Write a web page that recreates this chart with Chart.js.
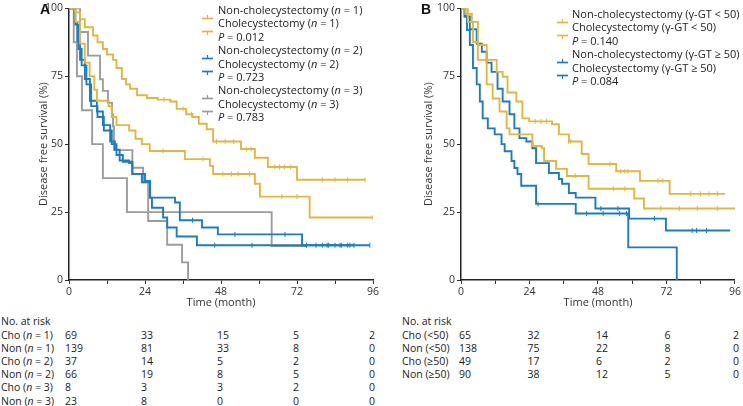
<!DOCTYPE html>
<html>
<head>
<meta charset="utf-8">
<script src="https://cdn.jsdelivr.net/npm/chart.js@4.4.1/dist/chart.umd.min.js"></script>
<style>
  body { margin: 0; background: #fff; }
  #page { position: relative; width: 743px; height: 406px; overflow: hidden; font-family: "Open Sans", sans-serif; color: #222; }
  #page canvas { position: absolute; top: 0; }
  .txt { position: absolute; font-size: 10.5px; line-height: 12px; white-space: nowrap; }
  .lg { font-size: 11px; }
  .letter { position: absolute; font: bold 14px "Liberation Sans", Arial, sans-serif; color: #111; }
</style>
</head>
<body>
<div id="page">
  <canvas id="chartA" width="385" height="312" style="left:0"></canvas>
  <canvas id="chartB" width="353" height="312" style="left:390px"></canvas>
  <div class="letter" style="left:40px;top:1px">A</div>
  <div class="letter" style="left:421px;top:1px">B</div>
</div>
<script>
const YEL = '#E2B63F', BLU = '#1B7CC2', GRY = '#9C9C9C';
const FONT = '"Open Sans", sans-serif';

// Panel A: survival steps (time in months, survival in %) and censor times
const aNon1T = [0, 2, 3.5, 5, 7.6, 9, 10.7, 12, 13.9, 15, 16.7, 18, 19.3, 21.5, 24.6, 28, 32, 34, 37, 39, 41, 43.5, 45.5, 54.3, 58.7, 62.8, 72, 93.5];
const aNon1S = [100, 98.5, 96, 93, 90, 87.5, 85, 83, 81, 78, 74, 72, 70.4, 68, 67, 66.4, 65.7, 63, 61, 60, 57.5, 55.5, 51, 48.2, 45, 41.6, 36.9, 36.9];
const aNon1C = [30, 36, 38.7, 46.6, 49.3, 52, 56, 57.5, 65, 66.5, 68, 70, 80, 84, 88, 93.5];

const aCho1T = [0, 2, 3.5, 5, 6.5, 8, 8.8, 12.5, 13.5, 15, 19, 21, 23, 25.5, 36.6, 44.5, 45.5, 58.7, 60.3, 76, 96];
const aCho1S = [100, 95, 87, 80, 75, 70, 66, 64, 60, 57, 55, 52, 50, 47.5, 44.5, 42, 39, 35.4, 30.7, 23, 23];
const aCho1C = [29.7, 42.3, 48.6, 51.3, 53.4, 57, 67.2, 72, 96];

const aNon2T = [0, 1.8, 2.6, 3.5, 5, 6.6, 8.8, 10.7, 13, 14.5, 16, 19, 20, 24, 25.6, 33.5, 35, 42, 47, 73.6, 95];
const aNon2S = [100, 95, 88, 81, 74, 66, 62, 57, 51, 48, 44, 43, 39, 36.5, 30.3, 28.5, 22, 19.3, 16.8, 12.8, 12.8];
const aNon2C = [39, 52.4, 68.2, 75, 78, 80, 82, 84, 86, 88, 90, 95];

const aCho2T = [0, 2, 3, 4, 5.5, 7, 9, 11, 13.5, 15, 17, 20, 23, 25.6, 26.2, 29.7, 31, 34, 40.4, 90];
const aCho2S = [100, 94, 85, 79, 72, 64, 60, 55, 50, 46, 43.5, 39, 36, 30.3, 26.6, 23, 19.3, 16, 12.8, 12.8];
const aCho2C = [46, 57.8, 81.5, 85.6, 88.7];

const aNon3T = [0, 3.5, 6, 9.8, 10.7, 12.3, 13.6, 13.9, 14.2, 20, 23.4, 25, 31, 35.7, 37.6];
const aNon3S = [100, 91.3, 82.6, 73.9, 69.6, 65.2, 60.9, 56.5, 47.8, 41.3, 36, 21.7, 13, 6.5, 0];
const aNon3C = [];

const aCho3T = [0, 1.5, 2.5, 4.1, 7.3, 10.7, 18.3, 64, 75];
const aCho3S = [100, 87.5, 75, 62.5, 50, 37.5, 25, 12.5, 12.5];
const aCho3C = [];

// Panel B
const bNonLT = [0, 1.5, 3.8, 5.9, 9, 12.5, 14.6, 16.3, 19.4, 21.5, 23.9, 31.9, 34.3, 37.8, 42.3, 44.7, 54.4, 62.7, 73.1, 92.5];
const bNonLS = [100, 98, 95, 86.5, 81, 76.6, 74.8, 69, 65.7, 59.5, 58.4, 57.3, 53.6, 51, 46.4, 42.7, 40, 36.5, 31.7, 31.7];
const bNonLC = [26, 28, 30, 37.8, 38.5, 52.2, 56, 57.4, 58.5, 69, 70.7, 80.5, 83.9, 86.9, 89.8];

const bChoLT = [0, 2.4, 4.2, 5.9, 9, 11.1, 13.5, 16, 17, 25, 28.4, 29.1, 33.3, 37.1, 44.7, 60.7, 64.1, 96];
const bChoLS = [100, 95, 87.6, 81, 72, 66.8, 62, 55.8, 53.6, 49.3, 48.5, 43.8, 40.9, 38.3, 33.6, 30, 26.3, 26.3];
const bChoLC = [40, 53.4, 57.4, 70, 76.5, 82.8, 89.8];

const bNonHT = [0, 1.5, 3.1, 5.5, 7.3, 9, 10.7, 12.8, 14.6, 17, 18.7, 20.5, 22.9, 25, 26.3, 30.8, 34.3, 35.4, 37.8, 40.2, 47.1, 58.9, 71.8, 94.3];
const bNonHS = [100, 97, 92.3, 87, 84, 80, 76.6, 70.4, 65.7, 61, 55.8, 52.2, 51, 48.5, 43, 39.4, 37.2, 35.4, 32, 30.3, 26.3, 22.6, 18.2, 18.2];
const bNonHC = [49, 55, 67.8, 81, 82.5, 86];

const bChoHT = [0, 1.2, 2.1, 3.1, 4.2, 5.5, 6.6, 7.6, 9.4, 11.8, 14.2, 15.3, 17.7, 18.7, 19.8, 21.1, 26.3, 40.2, 58.6, 75.6];
const bChoHS = [100, 97, 92, 86.5, 78, 72, 65.7, 59.5, 55.8, 53.6, 50, 47.4, 43.8, 41.2, 39, 34.7, 28, 24.5, 12, 0];
const bChoHC = [27, 44, 49.8, 55.5, 58];

// legends
const legendA = ['Non-cholecystectomy', 'Cholecystectomy'];
const groupsA = [1, 2, 3];
const pValuesA = ['0.012', '0.723', '0.783'];
const legendB = ['Non-cholecystectomy (γ-GT < 50)', 'Cholecystectomy (γ-GT < 50)', 'Non-cholecystectomy (γ-GT ≥ 50)', 'Cholecystectomy (γ-GT ≥ 50)'];
const pValuesB = ['0.140', '0.084'];

// numbers at risk
const riskMonths = [0, 24, 48, 72, 96];
const riskGroupA = ['Cho', 'Non', 'Cho', 'Non', 'Cho', 'Non'];
const riskNA = [1, 1, 2, 2, 3, 3];
const riskA = [
  [69, 33, 15, 5, 2],
  [139, 81, 33, 8, 0],
  [37, 14, 5, 2, 0],
  [66, 19, 8, 5, 0],
  [8, 3, 3, 2, 0],
  [23, 8, 0, 0, 0]
];
const riskLabelB = ['Cho (<50)', 'Non (<50)', 'Cho (≥50)', 'Non (≥50)'];
const riskB = [
  [65, 32, 14, 6, 2],
  [138, 75, 22, 8, 0],
  [49, 17, 6, 2, 0],
  [90, 38, 12, 5, 0]
];

const page = document.getElementById('page');

function survAt(t, s, x) {
  let v = s[0];
  for (let i = 0; i < t.length; i++) if (t[i] <= x) v = s[i];
  return v;
}

function curveSets(t, s, c, color) {
  return [{
    type: 'line',
    data: t.map((x, i) => ({x: x, y: s[i]})),
    borderColor: color,
    borderWidth: 1.9,
    pointRadius: 0,
    stepped: true,
    fill: false
  }, {
    type: 'scatter',
    data: c.map(x => ({x: x, y: survAt(t, s, x)})),
    borderColor: color,
    backgroundColor: color,
    pointStyle: 'line',
    rotation: 90,
    pointRadius: 2.5,
    borderWidth: 1,
    showLine: false
  }];
}

function makeChart(id, datasets, padLeft, padRight, yWidth) {
  return new Chart(document.getElementById(id), {
    data: {datasets: datasets},
    options: {
      responsive: false,
      animation: false,
      layout: {padding: {left: padLeft, right: padRight, top: 6, bottom: 3}},
      plugins: {legend: {display: false}, tooltip: {enabled: false}},
      scales: {
        x: {
          type: 'linear', min: 0, max: 96,
          ticks: {stepSize: 12, autoSkip: false, maxRotation: 0, padding: 2, color: '#333',
                  font: {family: FONT, size: 10.5},
                  callback: v => v % 24 === 0 ? v : ''},
          grid: {drawOnChartArea: false, tickLength: 4, tickColor: '#333'},
          border: {color: '#222', width: 1.5},
          title: {display: true, text: 'Time (month)', color: '#333', padding: 0,
                  font: {family: FONT, size: 11}},
          afterFit: s => { s.height = 29; }
        },
        y: {
          type: 'linear', min: 0, max: 100,
          ticks: {stepSize: 25, padding: 2, color: '#333', font: {family: FONT, size: 10.5}},
          grid: {drawOnChartArea: false, tickLength: 4, tickColor: '#333'},
          border: {color: '#222', width: 1.5},
          title: {display: true, text: 'Disease free survival (%)', color: '#333', padding: 0,
                  font: {family: FONT, size: 11}},
          afterFit: s => { s.width = yWidth; }
        }
      }
    }
  });
}

const chartA = makeChart('chartA', [].concat(
  curveSets(aNon1T, aNon1S, aNon1C, YEL),
  curveSets(aCho1T, aCho1S, aCho1C, YEL),
  curveSets(aNon2T, aNon2S, aNon2C, BLU),
  curveSets(aCho2T, aCho2S, aCho2C, BLU),
  curveSets(aNon3T, aNon3S, aNon3C, GRY),
  curveSets(aCho3T, aCho3S, aCho3C, GRY)
), 37, 12, 32);

const chartB = makeChart('chartB', [].concat(
  curveSets(bNonLT, bNonLS, bNonLC, YEL),
  curveSets(bChoLT, bChoLS, bChoLC, YEL),
  curveSets(bNonHT, bNonHS, bNonHC, BLU),
  curveSets(bChoHT, bChoHS, bChoHC, BLU)
), 32, 5, 39);

function addText(x, y, html, cls) {
  const d = document.createElement('div');
  d.className = 'txt' + (cls ? ' ' + cls : '');
  d.style.left = x + 'px';
  d.style.top = (y - 6) + 'px';
  d.innerHTML = html;
  page.appendChild(d);
  return d;
}

function marker(x, y, color, up) {
  const d = document.createElement('div');
  d.style.cssText = 'position:absolute;left:' + x + 'px;top:' + (y - 4.5) + 'px;width:11px;height:9px';
  d.innerHTML = '<svg width="11" height="9"><line x1="0" y1="4.5" x2="11" y2="4.5" stroke="' + color +
    '" stroke-width="1.7"/><line x1="5.5" y1="4.5" x2="5.5" y2="' + (up ? 1 : 8) + '" stroke="' + color +
    '" stroke-width="1.2"/></svg>';
  page.appendChild(d);
}

// legend A
const colorsA = [YEL, BLU, GRY];
groupsA.forEach((g, gi) => {
  const y0 = 10 + gi * 3 * 13.4;
  legendA.forEach((name, k) => {
    marker(202, y0 + k * 13.4, colorsA[gi], k === 0);
    addText(218, y0 + k * 13.4, name + ' (<i>n</i> = ' + g + ')', 'lg');
  });
  addText(218, y0 + 2 * 13.4, '<i>P</i> = ' + pValuesA[gi], 'lg');
});

// legend B
const colorsB = [YEL, BLU];
pValuesB.forEach((p, gi) => {
  const y0 = 14 + gi * 3 * 13.4;
  for (let k = 0; k < 2; k++) {
    marker(557, y0 + k * 13.4, colorsB[gi], k === 0);
    addText(572, y0 + k * 13.4, legendB[gi * 2 + k], 'lg');
  }
  addText(572, y0 + 2 * 13.4, '<i>P</i> = ' + p, 'lg');
});

// numbers at risk
const rowY = 335, rowStep = 13.1;
addText(1, 321, 'No. at risk');
riskA.forEach((row, r) => {
  addText(1, rowY + r * rowStep, riskGroupA[r] + ' (<i>n</i> = ' + riskNA[r] + ')');
  row.forEach((v, i) => addText(chartA.scales.x.getPixelForValue(riskMonths[i]) - 4, rowY + r * rowStep, v));
});
addText(402, 321, 'No. at risk');
riskB.forEach((row, r) => {
  addText(402, rowY + r * rowStep, riskLabelB[r]);
  row.forEach((v, i) => addText(390 + chartB.scales.x.getPixelForValue(riskMonths[i]) - 2, rowY + r * rowStep, v));
});
</script>
</body>
</html>
